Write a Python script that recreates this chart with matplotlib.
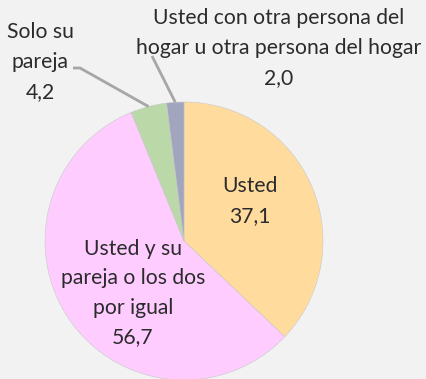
import numpy as np
import matplotlib.pyplot as plt

categories = ["Usted", "Usted y su\npareja o los dos\npor igual", "Solo su\npareja",
              "Usted con otra persona del\nhogar u otra persona del hogar"]
values = [37.1, 56.7, 4.2, 2.0]
colors = ["#FFDB9E", "#FFCCFF", "#BBD9A8", "#A1A5BD"]

W, H = 426, 379
fig = plt.figure(figsize=(W / 100, H / 100), dpi=100)
fig.patch.set_facecolor("#F2F2F2")
ax = fig.add_axes([0, 0, 1, 1])
ax.set_facecolor("#F2F2F2")

cx, cy, r = 184, H - 241, 139
wedges, _ = ax.pie(values, colors=colors, startangle=90, counterclock=False,
                   center=(cx, cy), radius=r, frame=True,
                   wedgeprops=dict(edgecolor="#C8C8C8", linewidth=0.4))
ax.set_xlim(0, W)
ax.set_ylim(0, H)
ax.axis("off")

font = dict(family=["Lato", "DejaVu Sans"], fontsize=15.2, color="#2B2B2B",
            ha="center", va="center", linespacing=1.6)

def fmt(v):
    return f"{v:.1f}".replace(".", ",")

def mid_point(w, rad):
    a = np.deg2rad((w.theta1 + w.theta2) / 2)
    return cx + rad * np.cos(a), cy + rad * np.sin(a)

# inside labels
ax.text(250, H - 201, f"{categories[0]}\n{fmt(values[0])}", **font)
ax.text(133, H - 293, f"{categories[1]}\n{fmt(values[1])}", **font)

# outside labels with leader lines
ax.text(40, H - 62, f"{categories[2]}\n{fmt(values[2])}", **font)
ex, ey = mid_point(wedges[2], r)
ax.plot([73, 80, ex], [H - 68, H - 68, ey], color="#A6A6A6", lw=2, solid_capstyle="butt")

ax.text(279, H - 48, f"{categories[3]}\n{fmt(values[3])}", **font)
ex, ey = mid_point(wedges[3], r)
ax.plot([152, ex], [H - 56, ey], color="#A6A6A6", lw=2, solid_capstyle="butt")

fig.savefig("out.png", dpi=100, facecolor=fig.get_facecolor())
